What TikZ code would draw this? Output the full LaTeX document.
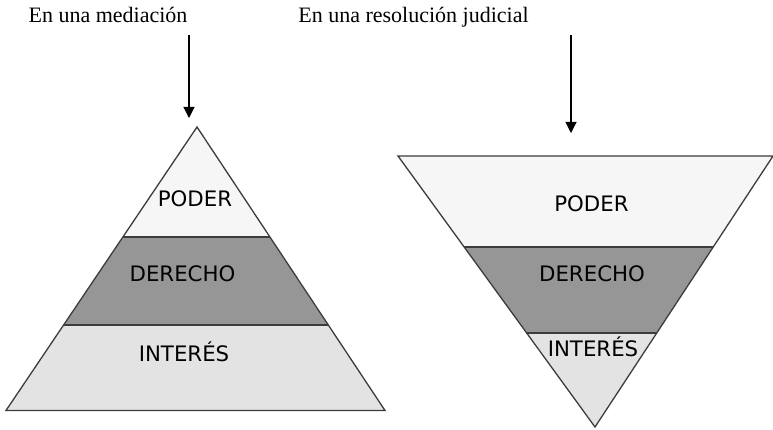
\documentclass[tikz,border=0pt]{standalone}
\usepackage{fontspec}
\setmainfont{Liberation Serif}
\newfontfamily\lblfont{DejaVu Sans}
\usetikzlibrary{arrows.meta}
\definecolor{poderfill}{HTML}{F6F6F6}
\definecolor{derfill}{HTML}{969696}
\definecolor{intfill}{HTML}{E3E3E3}
\definecolor{edge}{HTML}{3C3C3C}
\tikzset{
  layer/.style={draw=edge, line width=1.3pt, line join=miter},
  title/.style={anchor=base, inner sep=0pt, font=\fontsize{22}{25}\selectfont},
  tag/.style={anchor=base, inner sep=0pt, font=\lblfont\fontsize{21.3}{24}\selectfont},
  pointer/.style={draw=black, line width=1.1pt, -{Triangle[width=11pt,length=11pt]}}
}
\begin{document}
\begin{tikzpicture}[x=1pt,y=-1pt]
\useasboundingbox (0,0) rectangle (773,430);
% ---- left pyramid
\coordinate (LA) at (197,127);
\coordinate (LBL) at (6,410.5);
\coordinate (LBR) at (385,410.5);
\coordinate (L1l) at (122.8,237);
\coordinate (L1r) at (269.8,237);
\coordinate (L2l) at (63.4,325);
\coordinate (L2r) at (328.1,325);
\fill[poderfill] (LA) -- (L1r) -- (L1l) -- cycle;
\fill[derfill] (L1l) -- (L1r) -- (L2r) -- (L2l) -- cycle;
\fill[intfill] (L2l) -- (L2r) -- (LBR) -- (LBL) -- cycle;
\draw[layer] (L1l) -- (L1r);
\draw[layer] (L2l) -- (L2r);
\draw[layer] (LA) -- (LBR) -- (LBL) -- cycle;
% ---- right inverted pyramid
\coordinate (RA) at (595,427);
\coordinate (RTL) at (398,156);
\coordinate (RTR) at (773,156);
\coordinate (R1l) at (464.2,247);
\coordinate (R1r) at (713.2,247);
\coordinate (R2l) at (526.7,333);
\coordinate (R2r) at (656.7,333);
\fill[poderfill] (RTL) -- (RTR) -- (R1r) -- (R1l) -- cycle;
\fill[derfill] (R1l) -- (R1r) -- (R2r) -- (R2l) -- cycle;
\fill[intfill] (R2l) -- (R2r) -- (RA) -- cycle;
\draw[layer] (R1l) -- (R1r);
\draw[layer] (R2l) -- (R2r);
\draw[layer] (RTL) -- (RTR) -- (RA) -- cycle;
% ---- layer labels
\node[tag] (lp) at (195,206.5) {PODER};
\node[tag] (ld) at (182.5,281.7) {DERECHO};
\node[tag] (li) at (184,361) {INTERÉS};
\node[tag] (rp) at (591.5,211.7) {PODER};
\node[tag] (rd) at (592,281.7) {DERECHO};
\node[tag] (ri) at (593,356.7) {INTERÉS};
% ---- titles
\node[title] (t1) at (108,23) {En una mediación};
\node[title] (t2) at (413.5,23) {En una resolución judicial};
% ---- arrows
\coordinate (a1s) at (189,35);
\coordinate (a1e) at (189,118);
\coordinate (a2s) at (571,35);
\coordinate (a2e) at (571,133);
\draw[pointer] (a1s) -- (a1e);
\draw[pointer] (a2s) -- (a2e);
\end{tikzpicture}
\end{document}
